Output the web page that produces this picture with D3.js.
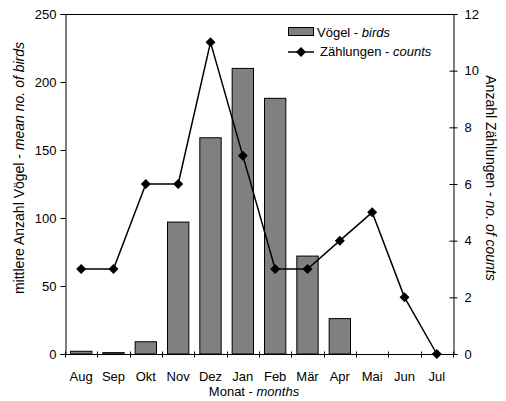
<!DOCTYPE html>
<html><head><meta charset="utf-8">
<script src="https://cdn.jsdelivr.net/npm/d3@7"></script>
<style>
body{margin:0;background:#fff;}
text{font-family:"Liberation Sans",Arial,sans-serif;font-size:13px;fill:#000;}
</style></head>
<body><svg id="c" width="506" height="401"></svg>
<script>
const months = ["Aug","Sep","Okt","Nov","Dez","Jan","Feb","Mär","Apr","Mai","Jun","Jul"];
const birds  = [2, 1, 9, 97, 159, 210, 188, 72, 26, 0, 0, 0];
const counts = [3, 3, 6, 6, 11, 7, 3, 3, 4, 5, 2, 0];
const leftTicks = [0, 50, 100, 150, 200, 250];
const rightTicks = [0, 2, 4, 6, 8, 10, 12];

const svg = d3.select("#c");
const L = 65, R = 453, T = 14, B = 354;
const FONT = "Liberation Sans, Arial, sans-serif";

const x = d3.scaleBand().domain(months).range([L, R]).paddingInner(0.34).paddingOuter(0.17);
const xb = d3.scaleBand().domain(months).range([L, R]);
const yL = d3.scaleLinear().domain([0, 250]).range([B, T]);
const yR = d3.scaleLinear().domain([0, 12]).range([B, T]);

// bars
svg.append("g").selectAll("rect").data(birds).join("rect")
  .attr("x", (d, i) => x(months[i]))
  .attr("width", x.bandwidth())
  .attr("y", d => yL(d))
  .attr("height", d => B - yL(d))
  .attr("fill", d => d > 0 ? "#808080" : "none")
  .attr("stroke", d => d > 0 ? "#000" : "none")
  .attr("stroke-width", 1);

// top frame
svg.append("line").attr("x1", L).attr("x2", R).attr("y1", T + 0.5).attr("y2", T + 0.5)
  .attr("stroke", "#000");

// left axis
const gl = svg.append("g").attr("transform", `translate(${L + 0.5},0)`)
  .call(d3.axisLeft(yL).tickValues(leftTicks).tickSize(5).tickPadding(4));
// right axis
const gr = svg.append("g").attr("transform", `translate(${R + 0.5},0)`)
  .call(d3.axisRight(yR).tickValues(rightTicks).tickSize(4).tickPadding(7));
gr.selectAll(".tick line").attr("x1", -4).attr("x2", 4);
// bottom axis with ticks between categories
const gb = svg.append("g").attr("transform", `translate(0,${B + 0.5})`)
  .call(d3.axisBottom(x).tickSize(0));
gb.selectAll(".tick").remove();
const bounds = d3.range(months.length + 1).map(i => L + i * xb.bandwidth());
gb.selectAll("line.sep").data(bounds).join("line").attr("class", "sep")
  .attr("x1", d => Math.round(d) + 0.5).attr("x2", d => Math.round(d) + 0.5)
  .attr("y1", -3).attr("y2", 3).attr("stroke", "#000");
gb.selectAll("text.m").data(months).join("text").attr("class", "m")
  .attr("x", d => xb(d) + xb.bandwidth() / 2).attr("y", 26)
  .attr("text-anchor", "middle").text(d => d);

[gl, gr, gb].forEach(g => {
  g.selectAll(".domain").attr("stroke", "#000");
  g.selectAll("text").style("font-family", FONT).style("font-size", "13px");
});
gb.select(".domain").attr("d", `M${L},0H${R}`);

// counts line
const line = d3.line().x((d, i) => xb(months[i]) + xb.bandwidth() / 2).y(d => yR(d));
svg.append("path").datum(counts).attr("d", line).attr("fill", "none")
  .attr("stroke", "#000").attr("stroke-width", 1.5);
const diamond = d3.symbol().type(d3.symbolDiamond2).size(64);
svg.append("g").selectAll("path").data(counts).join("path")
  .attr("transform", (d, i) => `translate(${xb(months[i]) + xb.bandwidth() / 2},${yR(d)})`)
  .attr("d", diamond).attr("fill", "#000");

// axis titles
function title(tx, ty, rot, size, parts) {
  const t = svg.append("text").attr("transform", `translate(${tx},${ty}) rotate(${rot})`)
    .attr("text-anchor", "middle").style("font-size", size + "px");
  parts.forEach(p => t.append("tspan").style("font-style", p[1] ? "italic" : "normal").text(p[0]));
}
title(24, 168, -90, 14, [["mittlere Anzahl Vögel - ", false], ["mean no. of birds", true]]);
title(486, 178, 90, 14, [["Anzahl Zählungen - ", false], ["no. of counts", true]]);
title(254, 396, 0, 13, [["Monat - ", false], ["months", true]]);

// legend
const lg = svg.append("g");
lg.append("rect").attr("x", 288.5).attr("y", 27.5).attr("width", 25).attr("height", 8)
  .attr("fill", "#808080").attr("stroke", "#000");
lg.append("text").attr("x", 317).attr("y", 37)
  .call(t => { t.append("tspan").text("Vögel - "); t.append("tspan").style("font-style", "italic").text("birds"); });
lg.append("line").attr("x1", 288).attr("x2", 314).attr("y1", 52).attr("y2", 52)
  .attr("stroke", "#000").attr("stroke-width", 1.5);
lg.append("path").attr("transform", "translate(301,52)").attr("d", diamond).attr("fill", "#000");
lg.append("text").attr("x", 320).attr("y", 56)
  .call(t => { t.append("tspan").text("Zählungen - "); t.append("tspan").style("font-style", "italic").text("counts"); });
</script></body></html>
